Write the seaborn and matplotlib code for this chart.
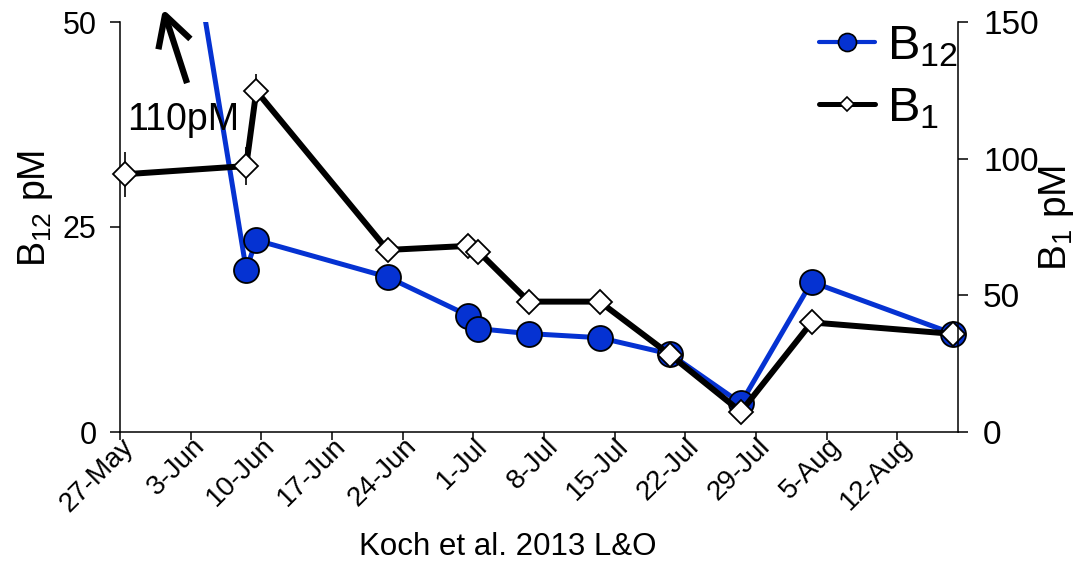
import matplotlib
matplotlib.use("Agg")
import matplotlib.pyplot as plt
import matplotlib.patches as mpatches
from matplotlib.transforms import ScaledTranslation
import seaborn as sns
import pandas as pd
from matplotlib.lines import Line2D

# Sampling dates (noon of each sampling day)
b12_dates = ["2013-05-27 12:00", "2013-06-08 12:00", "2013-06-09 12:00", "2013-06-22 12:00",
             "2013-06-30 12:00", "2013-07-01 12:00", "2013-07-06 12:00", "2013-07-13 12:00",
             "2013-07-20 12:00", "2013-07-27 12:00", "2013-08-03 12:00", "2013-08-17 12:00"]
b12_values = [110.0, 19.8, 23.4, 18.9, 14.2, 12.6, 12.0, 11.5, 9.5, 3.5, 18.3, 12.0]

b1_dates = ["2013-05-27 12:00", "2013-06-08 12:00", "2013-06-09 12:00", "2013-06-22 12:00",
            "2013-06-30 12:00", "2013-07-01 12:00", "2013-07-06 12:00", "2013-07-13 12:00",
            "2013-07-20 12:00", "2013-07-27 12:00", "2013-08-03 12:00", "2013-08-17 12:00"]
b1_values = [94.3, 97.3, 124.8, 66.6, 68.1, 66.0, 47.7, 47.7, 28.2, 7.4, 40.1, 35.9]
b1_errors = [8.2, 7.0, 6.2, 0, 0, 0, 0, 0, 0, 0, 0, 0]

tick_labels = ["27-May", "3-Jun", "10-Jun", "17-Jun", "24-Jun", "1-Jul", "8-Jul",
               "15-Jul", "22-Jul", "29-Jul", "5-Aug", "12-Aug"]
b12_ticks = [0, 25, 50]
b1_ticks = [0, 50, 100, 150]

BLUE = "#0532D2"

sns.set_theme(style="white")
plt.rcParams["font.family"] = ["Liberation Sans", "DejaVu Sans"]
plt.rcParams["mathtext.fontset"] = "custom"
plt.rcParams["mathtext.rm"] = "Liberation Sans"
plt.rcParams["mathtext.it"] = "Liberation Sans:italic"
plt.rcParams["mathtext.bf"] = "Liberation Sans:bold"
for key in ("text.color", "axes.labelcolor", "xtick.color", "ytick.color", "axes.edgecolor"):
    plt.rcParams[key] = "black"

df12 = pd.DataFrame({"date": pd.to_datetime(b12_dates), "B12": b12_values})
df1 = pd.DataFrame({"date": pd.to_datetime(b1_dates), "B1": b1_values, "err": b1_errors})

fig = plt.figure(figsize=(10.75, 5.61), dpi=100)
ax = fig.add_axes([120 / 1075, 1 - 432 / 561, 838 / 1075, 410 / 561])
ax2 = ax.twinx()

sns.lineplot(data=df12, x="date", y="B12", ax=ax, color=BLUE, linewidth=3.6,
             marker="o", markersize=18, markerfacecolor=BLUE, markeredgecolor="black",
             markeredgewidth=1.3, legend=False)
# clip only at the top so the off-scale first value is cut, but end markers stay whole
clip_rect = mpatches.Rectangle((-0.2, -0.2), 1.4, 1.2, transform=ax.transAxes,
                               facecolor="none", edgecolor="none")
for ln in ax.lines:
    ln.set_clip_path(clip_rect)

ax2.errorbar(df1["date"], df1["B1"], yerr=df1["err"], fmt="none", ecolor="black",
             elinewidth=1.2, capsize=0, zorder=1)
sns.lineplot(data=df1, x="date", y="B1", ax=ax2, color="black", linewidth=4.3,
             marker="D", markersize=12, markerfacecolor="white", markeredgecolor="black",
             markeredgewidth=1.3, legend=False, zorder=2, clip_on=False)

start = pd.Timestamp("2013-05-27")
ax.set_xlim(start, pd.Timestamp("2013-08-18"))
tick_pos = [start + pd.Timedelta(days=7 * i) for i in range(len(tick_labels))]
ax.set_xticks(tick_pos)
ax.set_xticklabels(tick_labels, rotation=45, ha="right", va="center",
                   rotation_mode="anchor", fontsize=20)

ax.set_ylim(0, 50)
ax.set_yticks(b12_ticks)
ax.set_yticklabels([str(t) for t in b12_ticks], fontsize=22)
ax2.set_ylim(0, 150)
ax2.set_yticks(b1_ticks)
ax2.set_yticklabels([str(t) for t in b1_ticks], fontsize=24)

for a in (ax, ax2):
    for s in a.spines.values():
        s.set_linewidth(1.1)
        s.set_color("black")
    a.spines["top"].set_visible(False)
ax.spines["right"].set_visible(False)
ax2.spines["left"].set_visible(False)
ax2.spines["bottom"].set_visible(False)

ax.tick_params(axis="x", direction="out", length=6, width=1.1, color="black", pad=1.5, bottom=True)
ax.tick_params(axis="y", direction="out", length=7, width=1.1, color="black", pad=10, left=True)
ax2.tick_params(axis="y", direction="out", length=7, width=1.1, color="black", pad=11, right=True)

# nudge the slanted date labels a little to the right of their ticks
shift = ScaledTranslation(0.10, 0, fig.dpi_scale_trans)
for lbl in ax.get_xticklabels():
    lbl.set_transform(lbl.get_transform() + shift)

ax.set_xlabel("Koch et al. 2013 L&O", fontsize=22.5)
ax.xaxis.set_label_coords(0.463, -0.245)
ax.set_ylabel(r"B$_{12}$ pM", fontsize=27)
ax.yaxis.set_label_coords(-0.077, 0.546)
ax2.set_ylabel(r"B$_{1}$ pM", fontsize=28)
ax2.yaxis.set_label_coords(1.094, 0.523)

# Off-scale first B12 value
ax.annotate("", xy=(0.0513, 1.032), xytext=(0.080, 0.851), xycoords="axes fraction",
            textcoords="axes fraction", annotation_clip=False,
            arrowprops=dict(arrowstyle="->,head_length=1.0,head_width=0.55",
                            mutation_scale=22, lw=4.5, color="black",
                            shrinkA=0, shrinkB=0, capstyle="butt"))
ax.text(0.008, 0.737, "110pM", transform=ax.transAxes, fontsize=27,
        ha="left", va="baseline")

handles = [
    Line2D([], [], color=BLUE, linewidth=3.0, marker="o", markersize=13,
           markerfacecolor=BLUE, markeredgecolor="black", markeredgewidth=1.2),
    Line2D([], [], color="black", linewidth=3.6, marker="D", markersize=7,
           markerfacecolor="white", markeredgecolor="black", markeredgewidth=1.2),
]
leg = ax2.legend(handles, [r"B$_{12}$", r"B$_{1}$"], loc="upper right",
                 bbox_to_anchor=(1.0, 0.995), frameon=False, fontsize=35,
                 handlelength=1.15, handletextpad=0.25, labelspacing=0.35,
                 borderaxespad=0.0, borderpad=0.0)

fig.savefig("out.png", dpi=100)
